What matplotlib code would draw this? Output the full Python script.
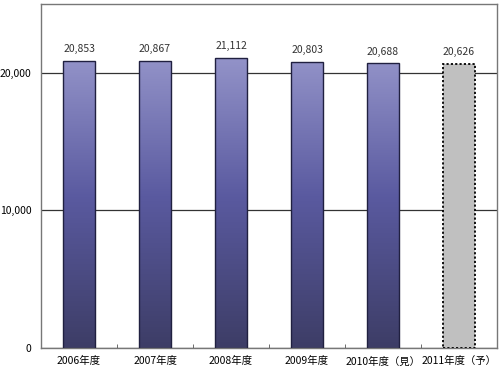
import numpy as np
import matplotlib
matplotlib.use("Agg")
import matplotlib.pyplot as plt
from matplotlib.colors import LinearSegmentedColormap

plt.rcParams['font.family'] = ['Noto Sans CJK JP', 'DejaVu Sans']

categories = ["2006年度", "2007年度", "2008年度", "2009年度", "2010年度（見）", "2011年度（予）"]
values = [20853, 20867, 21112, 20803, 20688, 20626]
labels = ["20,853", "20,867", "21,112", "20,803", "20,688", "20,626"]

fig = plt.figure(figsize=(5.0, 3.71), dpi=100)
ax = fig.add_axes([0.082, 0.062, 0.912, 0.927])

x = np.arange(len(categories))
grad = LinearSegmentedColormap.from_list("g", ["#3d3d66", "#5a5aa0", "#9898cc"])

bars = ax.bar(x, values, width=0.41, color="none", edgecolor="#202040", linewidth=1.0, zorder=3)
for i, b in enumerate(bars):
    if i == len(bars) - 1:
        b.set_facecolor("#c0c0c0")
        b.set_edgecolor("black")
        b.set_linestyle((0, (1.2, 1.2)))
        b.set_linewidth(1.3)
        continue
    x0 = b.get_x()
    w = b.get_width()
    img = np.linspace(0, 1, 256).reshape(-1, 1)
    im = ax.imshow(img, extent=[x0, x0 + w, 0, 22000], origin="lower", cmap=grad,
                   aspect="auto", zorder=2)
    im.set_clip_path(b)

for xi, v, lab in zip(x, values, labels):
    ax.text(xi, v + 500, lab, ha="center", va="bottom", fontsize=7.5, color="#333333")

ax.set_xlim(-0.5, len(categories) - 0.5)
ax.set_ylim(0, 25000)
ax.set_yticks([0, 10000, 20000])
ax.set_yticklabels(["0", "10,000", "20,000"], fontsize=7.5)
ax.yaxis.grid(True, color="#333333", linewidth=0.9, zorder=1)
ax.set_axisbelow(True)
ax.tick_params(axis="y", length=0, pad=7)

ax.set_xticks(x)
ax.set_xticklabels(categories, fontsize=7.5)
ax.set_xticks(np.arange(0.5, len(categories) - 0.5, 1), minor=True)
ax.tick_params(axis="x", which="major", length=0, pad=6)
ax.tick_params(axis="x", which="minor", direction="in", length=3, color="#555555")

for s in ax.spines.values():
    s.set_color("#777777")
    s.set_linewidth(1.0)

fig.savefig("out.png", dpi=100)
